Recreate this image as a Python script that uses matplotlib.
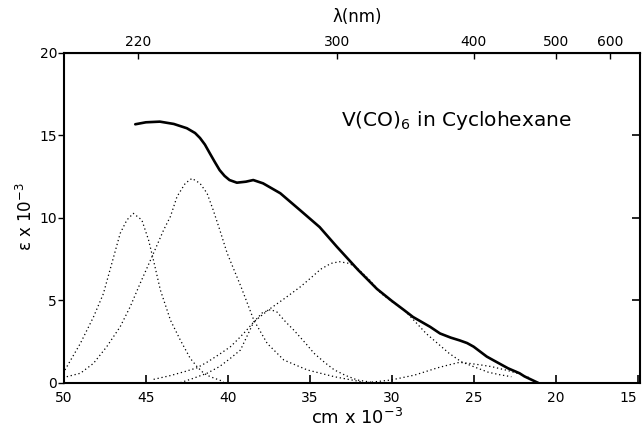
import matplotlib
matplotlib.use("Agg")
import matplotlib.pyplot as plt

# wavenumber (cm^-1 x 10^-3) and epsilon x 10^-3
total_x = [45.65, 45.0, 44.15, 43.3, 42.5, 42.0, 41.7, 41.4, 41.1, 40.8, 40.5, 40.2,
           39.9, 39.45, 38.9, 38.45, 37.85, 36.8, 35.6, 34.4, 33.35, 32.05, 31.4, 30.9,
           30.0, 29.25, 28.7, 27.65, 27.05, 26.4, 25.85, 25.4, 25.0, 24.6, 24.2,
           23.8, 22.9, 22.2, 21.9, 21.05]
total_y = [15.68, 15.8, 15.84, 15.7, 15.44, 15.15, 14.85, 14.45, 13.92, 13.4, 12.9, 12.55,
           12.3, 12.14, 12.2, 12.3, 12.1, 11.5, 10.48, 9.45, 8.26, 6.85, 6.2, 5.7,
           4.98, 4.42, 4.0, 3.4, 3.0, 2.75, 2.58, 2.42, 2.2, 1.9, 1.6,
           1.38, 0.89, 0.59, 0.4, 0.0]

band_a_x = [49.94, 49.0, 48.2, 47.6, 47.08, 46.57, 46.16, 45.77, 45.25, 44.84, 44.54,
            44.12, 43.5, 42.9, 42.3, 41.88, 41.47, 41.07, 40.25]
band_a_y = [0.79, 2.4, 4.0, 5.4, 7.25, 9.07, 9.88, 10.28, 9.88, 8.67, 7.45,
            5.64, 3.8, 2.6, 1.5, 0.99, 0.59, 0.38, 0.08]

band_b_x = [49.83, 49.0, 48.2, 47.39, 46.57, 45.96, 45.35, 44.63, 43.92, 43.5, 43.1,
            42.6, 42.19, 41.7, 41.27, 40.9, 40.5, 40.04, 39.6, 39.2, 38.42, 37.6,
            36.58, 35.15, 33.5, 31.9]
band_b_y = [0.38, 0.59, 1.19, 2.2, 3.41, 4.62, 6.04, 7.65, 9.27, 10.1, 11.3,
            12.1, 12.4, 12.1, 11.5, 10.5, 9.3, 7.86, 6.8, 5.84, 3.82, 2.4,
            1.39, 0.79, 0.38, 0.08]

band_c_x = [42.9, 42.2, 41.27, 40.5, 39.84, 39.23, 38.8, 38.42, 37.9, 37.4, 37.0,
            36.47, 35.97, 35.25, 34.74, 34.1, 33.5, 32.8, 32.1, 31.1]
band_c_y = [0.02, 0.25, 0.59, 1.0, 1.5, 2.0, 2.9, 3.7, 4.25, 4.45, 4.3,
            3.7, 3.2, 2.4, 1.8, 1.25, 0.79, 0.45, 0.18, 0.02]

band_d_x = [44.53, 43.5, 42.6, 41.88, 41.2, 40.5, 39.84, 39.43, 38.9, 38.42, 37.5,
            36.5, 35.56, 34.9, 34.33, 33.7, 33.2, 32.6, 32.1, 31.4, 30.66, 29.95,
            29.24, 28.6, 27.9, 27.2, 26.5, 25.76, 24.9, 24.1, 23.4, 22.7]
band_d_y = [0.22, 0.45, 0.7, 0.92, 1.3, 1.75, 2.2, 2.6, 3.15, 3.7, 4.45,
            5.15, 5.84, 6.4, 6.9, 7.25, 7.35, 7.25, 6.95, 6.3, 5.44, 4.9,
            4.42, 3.75, 3.0, 2.4, 1.8, 1.29, 0.95, 0.65, 0.5, 0.38]

band_e_x = [31.7, 30.05, 28.6, 27.2, 26.5, 25.87, 25.2, 24.54, 23.9, 22.9, 22.2, 21.5]
band_e_y = [0.0, 0.18, 0.48, 0.92, 1.1, 1.25, 1.18, 1.09, 0.99, 0.75, 0.55, 0.28]

x_ticks = [50, 45, 40, 35, 30, 25, 20, 15]
y_ticks = [0, 5, 10, 15, 20]
right_ticks = [5, 10, 15]
lambda_ticks = [220, 300, 400, 500, 600]

fig = plt.figure(figsize=(6.43, 4.33), dpi=100)
ax = fig.add_axes([0.0995, 0.1155, 0.8958, 0.7621])

dots = (0, (1.0, 2.2))
for bx, by in [(band_a_x, band_a_y), (band_b_x, band_b_y), (band_c_x, band_c_y),
               (band_d_x, band_d_y), (band_e_x, band_e_y)]:
    ax.plot(bx, by, color="black", lw=0.9, linestyle=dots)
ax.plot(total_x, total_y, color="black", lw=1.9, solid_capstyle="round",
        solid_joinstyle="round")

ax.set_xlim(50, 14.85)
ax.set_ylim(0, 20)
ax.set_xticks(x_ticks)
ax.set_yticks(y_ticks)
ax.tick_params(axis="x", direction="in", length=6, width=1.2, labelsize=10, pad=6)
ax.tick_params(axis="y", direction="out", length=4, width=1.0, labelsize=10, pad=1)
for s in ax.spines.values():
    s.set_linewidth(1.5)
# pull the last x label inside the figure, as in the original
ax.get_xticklabels()[-1].set_horizontalalignment("right")

# right-hand inward ticks without labels
axr = ax.twinx()
axr.set_ylim(0, 20)
axr.yaxis.set_ticks_position("right")
axr.set_yticks(right_ticks)
axr.tick_params(axis="y", which="major", direction="in", length=6, width=1.2,
                right=True, left=False, labelright=False, labelleft=False)
for s in axr.spines.values():
    s.set_visible(False)

secax = ax.secondary_xaxis("top", functions=(lambda v: 1e4 / v, lambda l: 1e4 / l))
secax.set_xticks(lambda_ticks)
secax.set_xticklabels([str(t) for t in lambda_ticks])
secax.tick_params(direction="in", length=4, width=1.0, labelsize=10, pad=3)

ax.text(33.1, 15.9, "V(CO)$_6$ in Cyclohexane", fontsize=14.5, va="center", ha="left")

fig.text(0.555, 0.035, "cm x 10$^{-3}$", fontsize=13, ha="center", va="center")
fig.text(0.04, 0.50, "ε x 10$^{-3}$", fontsize=12, ha="center", va="center", rotation=90)
fig.text(0.555, 0.96, "λ(nm)", fontsize=12, ha="center", va="center")

fig.savefig("out.png", dpi=100)
